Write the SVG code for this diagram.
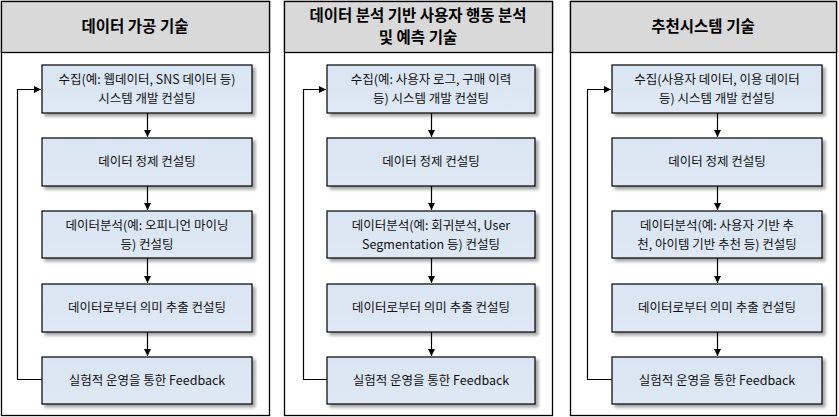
<svg xmlns="http://www.w3.org/2000/svg" width="839" height="417" viewBox="0 0 839 417">
<defs>
<style>
.panel{fill:#fff;stroke:#000;stroke-width:1.3}
.hdr{fill:#d9d9d9;stroke:#000;stroke-width:1.3}
.ht{font-family:"Malgun Gothic","Noto Sans CJK KR",sans-serif;font-size:15.5px;font-weight:bold;fill:#000;text-anchor:middle}
.box{fill:url(#g);stroke:#000;stroke-width:1.2;filter:url(#sh)}
.t{font-family:"Malgun Gothic","Noto Sans CJK KR",sans-serif;font-size:12.5px;fill:#111;text-anchor:middle}
.c{fill:none;stroke:#000;stroke-width:1.2}
</style>
<linearGradient id="g" x1="0" y1="0" x2="0" y2="1"><stop offset="0" stop-color="#dae5f3"/><stop offset="1" stop-color="#dfe8f4"/></linearGradient>
<filter id="sh" x="-10%" y="-20%" width="130%" height="160%"><feDropShadow dx="3" dy="3" stdDeviation="1.5" flood-color="#000" flood-opacity="0.35"/></filter>
<marker id="a" markerWidth="8" markerHeight="8" refX="7" refY="4" orient="auto" markerUnits="userSpaceOnUse"><path d="M0,0.5 L7,4 L0,7.5 z" fill="#000"/></marker>
</defs>

<!-- Panel 1 -->
<g id="panel1">
<rect class="panel" x="1.5" y="1.5" width="268" height="414"/>
<rect class="hdr" x="1.5" y="1.5" width="268" height="51"/>
<text class="ht" x="135" y="32">데이터 가공 기술</text>
</g>
<g id="p1n1"><rect class="box" x="42" y="65" width="210" height="48"/><text class="t" x="147" y="83.5">수집(예: 웹데이터, SNS 데이터 등)</text><text class="t" x="147" y="102.5">시스템 개발 컨설팅</text></g>
<g id="p1n2"><rect class="box" x="42" y="138" width="210" height="48"/><text class="t" x="147" y="166">데이터 정제 컨설팅</text></g>
<g id="p1n3"><rect class="box" x="42" y="211" width="210" height="47"/><text class="t" x="147" y="229.5">데이터분석(예: 오피니언 마이닝</text><text class="t" x="147" y="248.5">등) 컨설팅</text></g>
<g id="p1n4"><rect class="box" x="42" y="284" width="210" height="48"/><text class="t" x="147" y="312">데이터로부터 의미 추출 컨설팅</text></g>
<g id="p1n5"><rect class="box" x="42" y="357" width="210" height="47"/><text class="t" x="147" y="385">실험적 운영을 통한 Feedback</text></g>

<!-- Panel 2 -->
<g id="panel2">
<rect class="panel" x="284.5" y="1.5" width="268" height="414"/>
<rect class="hdr" x="284.5" y="1.5" width="268" height="51"/>
<text class="ht" x="418" y="20.5">데이터 분석 기반 사용자 행동 분석</text>
<text class="ht" x="418" y="43">및 예측 기술</text>
</g>
<g id="p2n1"><rect class="box" x="327" y="65" width="208" height="48"/><text class="t" x="431" y="83.5">수집(예: 사용자 로그, 구매 이력</text><text class="t" x="431" y="102.5">등) 시스템 개발 컨설팅</text></g>
<g id="p2n2"><rect class="box" x="327" y="138" width="208" height="48"/><text class="t" x="431" y="166">데이터 정제 컨설팅</text></g>
<g id="p2n3"><rect class="box" x="327" y="211" width="208" height="47"/><text class="t" x="431" y="229.5">데이터분석(예: 회귀분석, User</text><text class="t" x="431" y="248.5">Segmentation 등) 컨설팅</text></g>
<g id="p2n4"><rect class="box" x="327" y="284" width="208" height="48"/><text class="t" x="431" y="312">데이터로부터 의미 추출 컨설팅</text></g>
<g id="p2n5"><rect class="box" x="327" y="357" width="208" height="47"/><text class="t" x="431" y="385">실험적 운영을 통한 Feedback</text></g>

<!-- Panel 3 -->
<g id="panel3">
<rect class="panel" x="570.5" y="1.5" width="266" height="414"/>
<rect class="hdr" x="570.5" y="1.5" width="266" height="51"/>
<text class="ht" x="703" y="32">추천시스템 기술</text>
</g>
<g id="p3n1"><rect class="box" x="612" y="65" width="210" height="48"/><text class="t" x="717" y="83.5">수집(사용자 데이터, 이용 데이터</text><text class="t" x="717" y="102.5">등) 시스템 개발 컨설팅</text></g>
<g id="p3n2"><rect class="box" x="612" y="138" width="210" height="48"/><text class="t" x="717" y="166">데이터 정제 컨설팅</text></g>
<g id="p3n3"><rect class="box" x="612" y="211" width="210" height="47"/><text class="t" x="717" y="229.5">데이터분석(예: 사용자 기반 추</text><text class="t" x="717" y="248.5">천, 아이템 기반 추천 등) 컨설팅</text></g>
<g id="p3n4"><rect class="box" x="612" y="284" width="210" height="48"/><text class="t" x="717" y="312">데이터로부터 의미 추출 컨설팅</text></g>
<g id="p3n5"><rect class="box" x="612" y="357" width="210" height="47"/><text class="t" x="717" y="385">실험적 운영을 통한 Feedback</text></g>

<g id="connectors">
<path class="c" d="M147.5,113 V137" marker-end="url(#a)"/>
<path class="c" d="M147.5,186 V210" marker-end="url(#a)"/>
<path class="c" d="M147.5,258 V283" marker-end="url(#a)"/>
<path class="c" d="M147.5,332 V356" marker-end="url(#a)"/>
<path class="c" d="M42,379.5 H17.5 V89.5 H41" marker-end="url(#a)"/>

<path class="c" d="M431.5,113 V137" marker-end="url(#a)"/>
<path class="c" d="M431.5,186 V210" marker-end="url(#a)"/>
<path class="c" d="M431.5,258 V283" marker-end="url(#a)"/>
<path class="c" d="M431.5,332 V356" marker-end="url(#a)"/>
<path class="c" d="M327,379.5 H303.5 V89.5 H326" marker-end="url(#a)"/>

<path class="c" d="M717.5,113 V137" marker-end="url(#a)"/>
<path class="c" d="M717.5,186 V210" marker-end="url(#a)"/>
<path class="c" d="M717.5,258 V283" marker-end="url(#a)"/>
<path class="c" d="M717.5,332 V356" marker-end="url(#a)"/>
<path class="c" d="M612,379.5 H587.5 V89.5 H611" marker-end="url(#a)"/>
</g>
</svg>
